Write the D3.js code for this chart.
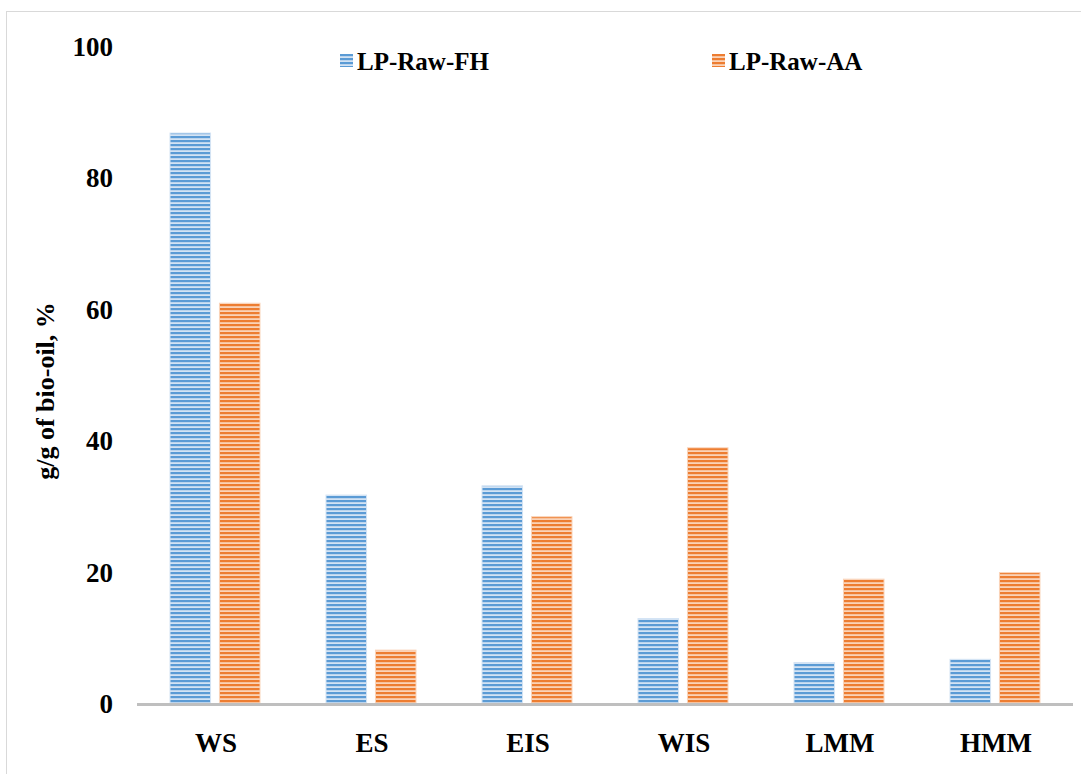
<!DOCTYPE html>
<html>
<head>
<meta charset="utf-8">
<script src="https://cdn.jsdelivr.net/npm/d3@7"></script>
<style>
body { margin: 0; background: #fff; }
text { font-family: "Liberation Serif", "Times New Roman", serif; font-weight: bold; fill: #000; }
</style>
</head>
<body>
<div id="chart"></div>
<script>
var categories = ["WS", "ES", "EIS", "WIS", "LMM", "HMM"]
var seriesNames = ["LP-Raw-FH", "LP-Raw-AA"]
var fhValues = [86.9, 31.8, 33.2, 13.0, 6.3, 6.8]
var aaValues = [61.0, 8.2, 28.5, 39.0, 19.0, 20.0]
var yTicks = [0, 20, 40, 60, 80, 100]
var colors = { dark: ["#5b9bd5", "#ed7d31"], light: ["#d3e3f4", "#fad3b8"] }

var W = 1081, H = 774
var svg = d3.select("#chart").append("svg").attr("width", W).attr("height", H)

// stripe patterns
var defs = svg.append("defs")
seriesNames.forEach(function(name, i) {
	var p = defs.append("pattern").attr("id", "stripe" + i).attr("patternUnits", "userSpaceOnUse")
		.attr("width", 8).attr("height", 4)
	p.append("rect").attr("width", 8).attr("height", 4).attr("fill", colors.light[i])
	p.append("rect").attr("y", 0).attr("width", 8).attr("height", 2.2).attr("fill", colors.dark[i])
})

// outer frame
svg.append("rect").attr("x", 6.5).attr("y", 11.5).attr("width", W + 10).attr("height", H + 10)
	.attr("fill", "none").attr("stroke", "#d9d9d9").attr("stroke-width", 1)

var x0 = d3.scaleBand().domain(categories).range([137, 1073])
var x1 = d3.scaleBand().domain(seriesNames).range([33, 123]).paddingInner(0.18)
var y = d3.scaleLinear().domain([0, 100]).range([704, 47])

// y tick labels
svg.append("g").selectAll("text").data(yTicks).join("text")
	.attr("x", 113).attr("y", function(d) { return y(d) + 9 })
	.attr("text-anchor", "end").style("font-size", "27px")
	.text(function(d) { return d })

// y title
svg.append("text").attr("transform", "translate(54,391) rotate(-90)")
	.attr("text-anchor", "middle").style("font-size", "26px").text("g/g of bio-oil, %")

// bars
var rows = categories.map(function(c, i) { return { cat: c, vals: [fhValues[i], aaValues[i]] } })
var groups = svg.append("g").selectAll("g").data(rows).join("g")
	.attr("transform", function(d) { return "translate(" + x0(d.cat) + ",0)" })
groups.selectAll("rect").data(function(d) { return d.vals.map(function(v, i) { return { v: v, i: i } }) })
	.join("rect")
	.attr("x", function(d) { return x1(seriesNames[d.i]) })
	.attr("y", function(d) { return y(d.v) })
	.attr("width", x1.bandwidth())
	.attr("height", function(d) { return y(0) - y(d.v) })
	.attr("fill", function(d) { return "url(#stripe" + d.i + ")" })
	.attr("stroke", function(d) { return colors.light[d.i] }).attr("stroke-width", 1)

// x axis line
svg.append("line").attr("x1", 137).attr("x2", 1073).attr("y1", 704.5).attr("y2", 704.5)
	.attr("stroke", "#bfbfbf").attr("stroke-width", 3)

// category labels
svg.append("g").selectAll("text").data(categories).join("text")
	.attr("x", function(d) { return x0(d) + x0.bandwidth() / 2 + 1 })
	.attr("y", 752).attr("text-anchor", "middle").style("font-size", "27px")
	.text(function(d) { return d })

// legend
var legendX = [340, 712]
var legend = svg.append("g").selectAll("g").data(seriesNames).join("g")
	.attr("transform", function(d, i) { return "translate(" + legendX[i] + ",54)" })
legend.append("rect").attr("width", 13).attr("height", 13)
	.attr("fill", function(d, i) { return "url(#stripe" + i + ")" })
legend.append("text").attr("x", 17).attr("y", 16).style("font-size", "25px").text(function(d) { return d })
</script>
</body>
</html>
